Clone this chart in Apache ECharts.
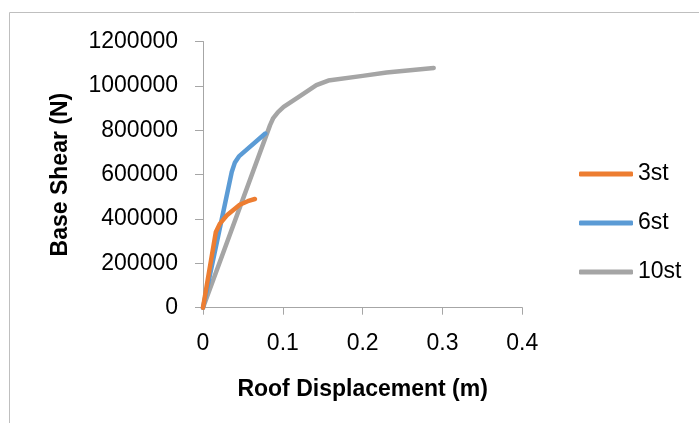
<!DOCTYPE html>
<html>
<head>
<meta charset="utf-8">
<script src="https://cdn.jsdelivr.net/npm/echarts@6/dist/echarts.min.js"></script>
<style>html,body{margin:0;padding:0;background:#fff}#c{width:699px;height:423px}</style>
</head>
<body>
<div id="c"></div>
<script>
const seriesNames = ['3st', '6st', '10st'];
const xTicks = [0, 0.1, 0.2, 0.3, 0.4];
const yTicks = [0, 200000, 400000, 600000, 800000, 1000000, 1200000];
const disp3 = [0, 0.016, 0.021, 0.030, 0.046, 0.056, 0.065];
const shear3 = [0, 340000, 378000, 417000, 464000, 480000, 490000];
const disp6 = [0, 0.036, 0.040, 0.045, 0.078];
const shear6 = [0, 612000, 655000, 682000, 785000];
const disp10 = [0, 0.084, 0.088, 0.094, 0.101, 0.120, 0.142, 0.157, 0.200, 0.230, 0.289];
const shear10 = [0, 823000, 855000, 882000, 905000, 950000, 1003000, 1024000, 1045000, 1060000, 1081000];
const colors = ['#ED7D31', '#5B9BD5', '#A5A5A5'];

const zip = (a, b) => a.map((v, i) => [v, b[i]]);
const data = [zip(disp3, shear3), zip(disp6, shear6), zip(disp10, shear10)];

const font = '"Liberation Sans", Arial, sans-serif';
const chart = echarts.init(document.getElementById('c'), null, {renderer: 'canvas'});
chart.setOption({
  animation: false,
  color: colors,
  graphic: [{
    type: 'rect', shape: {x: 9.5, y: 12.5, width: 720, height: 430},
    style: {fill: 'none', stroke: '#BFBFBF', lineWidth: 1}, z: -10
  }],
  grid: {left: 203, top: 41.5, width: 319.3, height: 266.2, containLabel: false},
  legend: {
    orient: 'vertical', left: 579, top: 162.5, padding: 0,
    itemWidth: 54, itemHeight: 5, itemGap: 26, icon: 'roundRect',
    textStyle: {fontFamily: font, fontSize: 23, color: '#000'},
    data: seriesNames
  },
  xAxis: {
    type: 'value', min: xTicks[0], max: xTicks[xTicks.length - 1], interval: 0.1,
    name: 'Roof Displacement (m)', nameLocation: 'middle', nameGap: 70,
    nameTextStyle: {fontFamily: font, fontSize: 23, fontWeight: 'bold', color: '#000'},
    axisLine: {show: true, lineStyle: {color: '#A6A6A6', width: 1}},
    axisTick: {show: true, length: 7, lineStyle: {color: '#A6A6A6'}},
    axisLabel: {fontFamily: font, fontSize: 23, color: '#000', margin: 24,
      formatter: v => String(+v.toFixed(1))},
    splitLine: {show: false}
  },
  yAxis: {
    type: 'value', min: yTicks[0], max: yTicks[yTicks.length - 1], interval: 200000,
    name: 'Base Shear (N)', nameLocation: 'middle', nameGap: 131, nameRotate: 90,
    nameTextStyle: {fontFamily: font, fontSize: 23, fontWeight: 'bold', color: '#000'},
    axisLine: {show: true, lineStyle: {color: '#A6A6A6', width: 1}},
    axisTick: {show: true, length: 8, lineStyle: {color: '#A6A6A6'}},
    axisLabel: {fontFamily: font, fontSize: 23, color: '#000', margin: 25,
      formatter: v => String(v)},
    splitLine: {show: false}
  },
  series: seriesNames.map((n, i) => ({
    name: n, type: 'line', data: data[i], showSymbol: false, symbol: 'none',
    lineStyle: {width: 4.5, color: colors[i], cap: 'round', join: 'round'},
    itemStyle: {color: colors[i]},
    z: i === 2 ? 1 : 3 - i
  }))
});
</script>
</body>
</html>
